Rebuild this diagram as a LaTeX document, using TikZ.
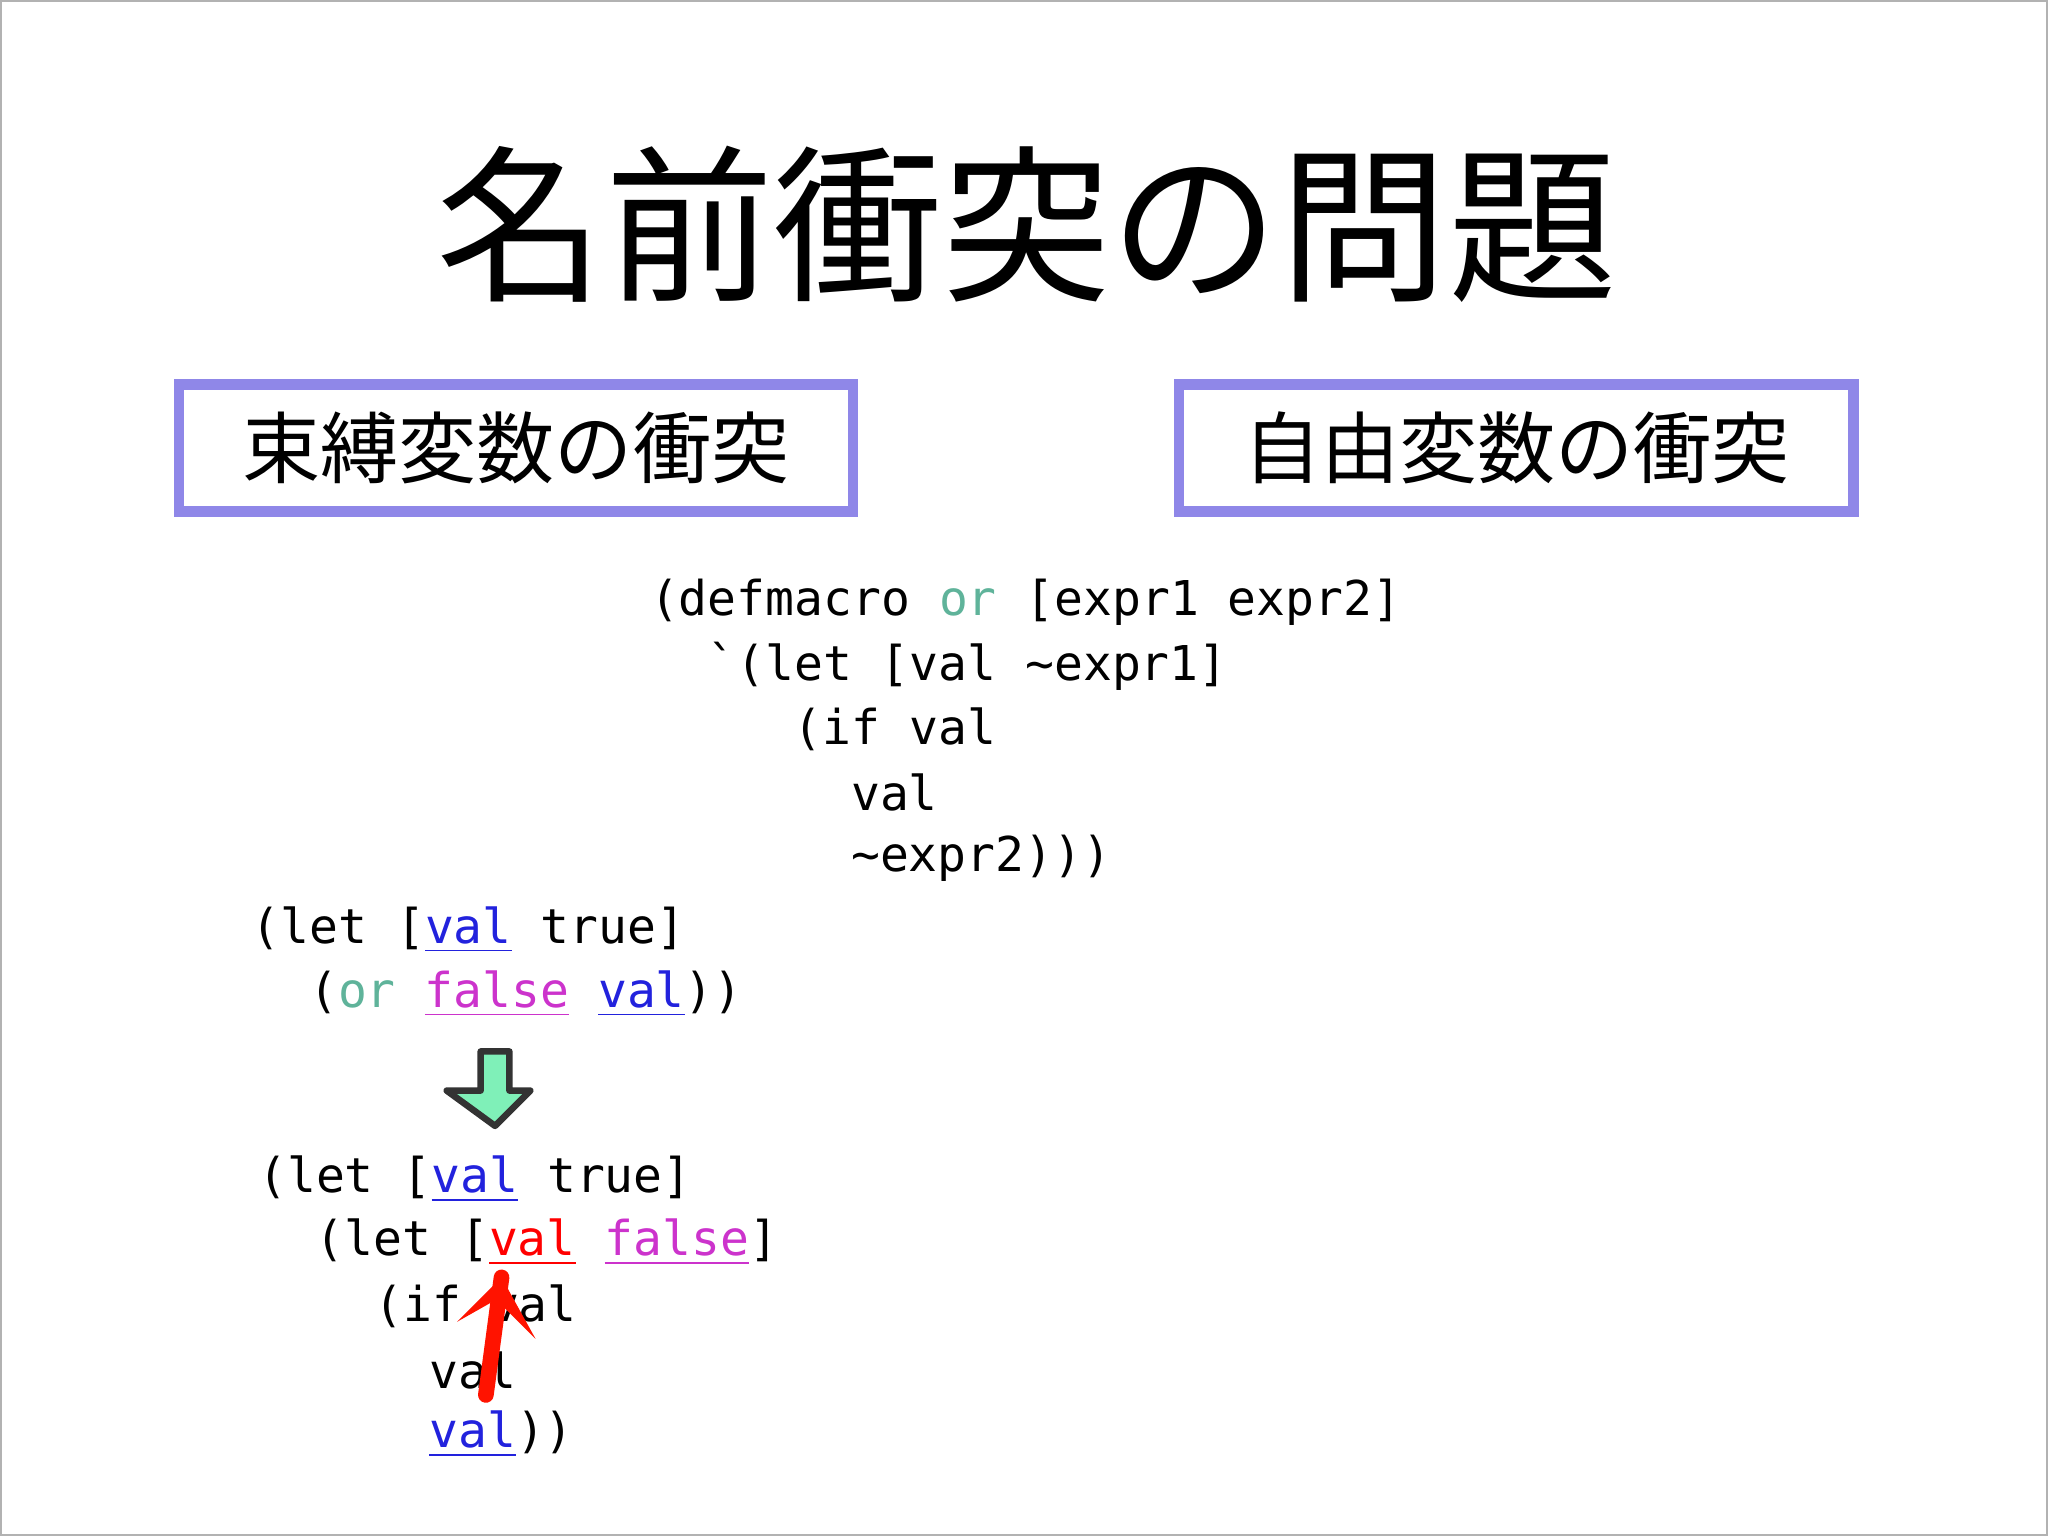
\documentclass[tikz,border=0pt]{standalone}
\usepackage{fontspec}
\setmonofont{DejaVu Sans Mono}
\newfontfamily\cjk{Noto Sans CJK JP}
\usetikzlibrary{positioning,calc}
\definecolor{BoxViolet}{HTML}{8F87E8}
\definecolor{OrTeal}{HTML}{5FB39A}
\definecolor{FalseMag}{HTML}{CC33CC}
\definecolor{ValBlue}{HTML}{2222DD}
\definecolor{ArrowMint}{HTML}{7FF0B8}
\newcommand{\codefont}{\ttfamily\fontsize{10.45}{12}\selectfont}
\newcommand{\ul}[2]{\textcolor{#1}{\underline{#2}}}
\begin{document}
\begin{tikzpicture}[x=0.01cm,y=-0.01cm,
  code/.style={anchor=west,inner sep=0pt,font=\codefont},
  titlebox/.style={draw=BoxViolet,line width=0.8mm,
    minimum width=5.16cm,minimum height=0.97cm,inner sep=0pt,font=\cjk\fontsize{17}{20}\selectfont}]
  \useasboundingbox (0,0) rectangle (1568,1176);
  \draw[gray!60] (1,1) rectangle (1567,1175);
  % title
  \node[font=\cjk\fontsize{36.7}{42}\selectfont] (title) at (786,172) {名前衝突の問題};
  \node[titlebox] (bound) at (395,343) {束縛変数の衝突};
  \node[titlebox] (free) at (1161,343) {自由変数の衝突};
  % macro definition
  \node[code] (m1) at (497,461) {(defmacro \textcolor{OrTeal}{or} [expr1 expr2]};
  \node[code] (m2) at (541,510) {`(let [val \textasciitilde expr1]};
  \node[code] (m3) at (607,558) {(if val};
  \node[code] (m4) at (651,607) {val};
  \node[code] (m5) at (651,657) {\textasciitilde expr2)))};
  % usage
  \node[code] (u1) at (192,712) {(let [\ul{ValBlue}{val} true]};
  \node[code] (u2) at (236,761) {(\textcolor{OrTeal}{or} \ul{FalseMag}{false} \ul{ValBlue}{val}))};
  % expansion arrow
  \coordinate (atop) at (379,805);
  \draw[fill=ArrowMint,draw=black!80,line width=0.5mm,line join=round]
    ($(atop)+(-11,0)$) -- ++(22,0) -- ++(0,30) -- ++(16,0) -- (379,862) -- (342,835) -- ++(26,0) -- cycle;
  % expanded
  \node[code] (e1) at (197,903) {(let [\ul{ValBlue}{val} true]};
  \node[code] (e2) at (241,951) {(let [\ul{red}{val} \ul{FalseMag}{false}]};
  \node[code] (e3) at (286,1000) {(if val};
  \node[code] (e4) at (328,1049) {val};
  \node[code] (e5) at (328,1098) {\ul{ValBlue}{val}))};
  % capture arrow
  \coordinate (ctail) at (372,1068);
  \coordinate (chead) at (384,978);
  \draw[red!85!orange,line width=1.2mm,line cap=round] (ctail) -- (chead);
  \fill[red!85!orange] (chead) -- (350,1012) -- (380,995) -- (410,1025) -- cycle;
\end{tikzpicture}
\end{document}
